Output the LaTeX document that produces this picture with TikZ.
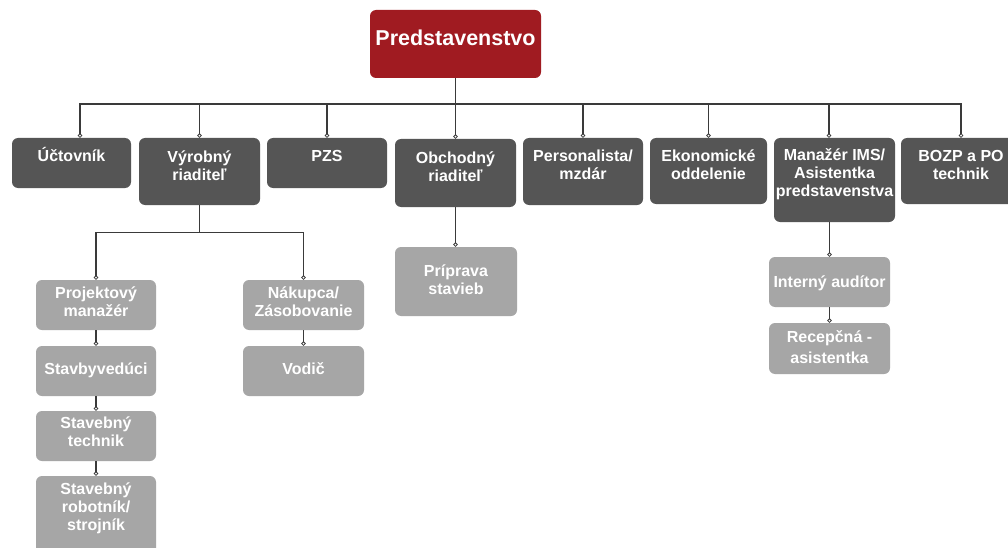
\documentclass[tikz,border=0pt]{standalone}
\usepackage{fontspec}
\setmainfont{Liberation Sans}
\usetikzlibrary{fit,arrows.meta}
\definecolor{redbox}{HTML}{A01B21}
\definecolor{darkbox}{HTML}{555555}
\definecolor{lightbox}{HTML}{A6A6A6}
\definecolor{linecol}{HTML}{3A3A3A}
\tikzset{
 boxbase/.style={rectangle, rounded corners=6pt, inner sep=0pt, draw=none},
 topbox/.style={boxbase, fill=redbox},
 darkbx/.style={boxbase, fill=darkbox},
 lightbx/.style={boxbase, fill=lightbox},
 lbl/.style={text=white, font=\bfseries\fontsize{16}{18}\selectfont, align=center, inner sep=0pt, anchor=north},
 conn/.style={draw=linecol, line width=1.4pt, -{Circle[open, length=4.5pt, line width=0.8pt]}},
}
\newcommand\orgbox[8]{%
 \node[#2, fit={(#3,#4) (#5,#6)}] (#1) {};
 \node[lbl] (#1-t) at ({(#3+#5)/2},{#7-16}) {\rule{0pt}{16pt}#8};
}
\begin{document}
\begin{tikzpicture}[x=1pt,y=-1pt]
\clip (0,0) rectangle (1008,548);
\fill[white] (0,0) rectangle (1008,548);
% top
\node[topbox, fit={(370,10) (541,78)}] (pred) {};
\node[lbl, font=\bfseries\fontsize{21.5}{24}\selectfont] (pred-t) at (455.5,27) {\rule{0pt}{18pt}Predstavenstvo};
% level 1
\orgbox{ucto}{darkbx}{12}{138}{131}{188}{161}{Účtovník}
\orgbox{vyrob}{darkbx}{139}{138}{260}{205}{162}{Výrobný\\riaditeľ}
\orgbox{pzs}{darkbx}{267}{138}{387}{188}{161}{PZS}
\orgbox{obch}{darkbx}{395}{139}{516}{207}{163}{Obchodný\\riaditeľ}
\orgbox{pers}{darkbx}{523}{138}{643}{205}{161}{Personalista/\\mzdár}
\orgbox{ekon}{darkbx}{650}{138}{767}{204}{161}{Ekonomické\\oddelenie}
\orgbox{manaz}{darkbx}{774}{138}{895}{222}{160}{Manažér IMS/\\Asistentka\\predstavenstva}
\orgbox{bozp}{darkbx}{901}{138}{1021}{204}{161}{BOZP a PO\\technik}
% level 2
\orgbox{proj}{lightbx}{36}{280}{156}{330}{298}{Projektový\\manažér}
\orgbox{stavby}{lightbx}{36}{346}{156}{396}{374}{Stavbyvedúci}
\orgbox{tech}{lightbx}{36}{411}{156}{461}{428}{Stavebný\\technik}
\orgbox{robot}{lightbx}{36}{476}{156}{570}{494}{Stavebný\\robotník/\\strojník}
\orgbox{nakup}{lightbx}{243}{280}{364}{330}{298}{Nákupca/\\Zásobovanie}
\orgbox{vodic}{lightbx}{243}{346}{364}{396}{374}{Vodič}
\orgbox{prip}{lightbx}{395}{247}{517}{316}{276}{Príprava\\stavieb}
\orgbox{inter}{lightbx}{769}{257}{890}{307}{287}{Interný audítor}
\orgbox{recep}{lightbx}{769}{323}{890}{374}{342}{Recepčná -\\[3pt]asistentka}
% connectors level 1
\draw[conn] (pred.south) -- ++(0,26) -| ([xshift=8.5pt]ucto.north);
\draw[conn] (pred.south) -- ++(0,26) -| (vyrob.north);
\draw[conn] (pred.south) -- ++(0,26) -| (pzs.north);
\draw[conn] (pred.south) -- (obch.north);
\draw[conn] (pred.south) -- ++(0,26) -| (pers.north);
\draw[conn] (pred.south) -- ++(0,26) -| (ekon.north);
\draw[conn] (pred.south) -- ++(0,26) -| ([xshift=-5.5pt]manaz.north);
\draw[conn] (pred.south) -- ++(0,26) -| (bozp.north);
% connectors level 2
\draw[conn] (vyrob.south) -- ++(0,27) -| (proj.north);
\draw[conn] (vyrob.south) -- ++(0,27) -| (nakup.north);
\draw[conn] (proj.south) -- (stavby.north);
\draw[conn] (stavby.south) -- (tech.north);
\draw[conn] (tech.south) -- (robot.north);
\draw[conn] (nakup.south) -- (vodic.north);
\draw[conn] (obch.south) -- (obch.south |- prip.north);
\draw[conn] (inter.north |- manaz.south) -- (inter.north);
\draw[conn] (inter.south) -- (recep.north);
\end{tikzpicture}
\end{document}
